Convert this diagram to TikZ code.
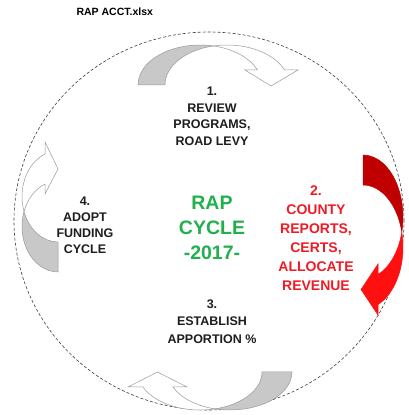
\documentclass[tikz,border=0pt]{standalone}
\usepackage{fontspec}
\setmainfont{Liberation Sans}
\definecolor{backgray}{HTML}{C8C8C8}
\definecolor{edgegray}{HTML}{9A9A9A}
\definecolor{redback}{HTML}{C00000}
\definecolor{redfront}{HTML}{FF1010}
\definecolor{stepred}{HTML}{EE1C25}
\definecolor{cyclegreen}{HTML}{22B04E}
\definecolor{inkdark}{HTML}{1E1E1E}
\usetikzlibrary{calc}
\tikzset{
  steptext/.style={font=\bfseries\fontsize{12.5}{16.5}\selectfont, text=inkdark, align=center},
  grayback/.style={fill=backgray, draw=edgegray, line width=0.5pt},
  grayfront/.style={fill=white, draw=edgegray, line width=0.5pt},
}

\begin{document}
\begin{tikzpicture}[x=1pt, y=1pt]
\useasboundingbox (0,0) rectangle (408,415);
\fill[white] (0,0) rectangle (408,415);

% File name
\node[font=\bfseries\fontsize{10.5}{12}\selectfont, anchor=west] (title) at (73,403) {RAP ACCT.xlsx};

% Dashed cycle outline
\draw[inkdark!85, line width=0.6pt, dash pattern=on 3pt off 2pt] (209,194) ellipse[x radius=195, y radius=189];

% Top arrow (1 -> 2)
\draw[grayback] (138,330) arc[start angle=180, end angle=77.42, x radius=62, y radius=40]
  arc[start angle=102.58, end angle=180, x radius=62, y radius=40] -- cycle;
\draw[grayfront] (257.5,345) arc[start angle=22.02, end angle=77.42, x radius=62, y radius=40]
  arc[start angle=102.58, end angle=22.02, x radius=62, y radius=40]
  -- (298,345) -- (271,329) -- (245,345) -- cycle;

% Right arrow (2 -> 3)
\draw[fill=redback, draw=redback, line width=0.5pt] (363,260) arc[start angle=90, end angle=-14, x radius=40, y radius=62]
  arc[start angle=14, end angle=90, x radius=40, y radius=62] -- cycle;
\draw[fill=redfront, draw=redfront, line width=0.5pt] (378,140.5) arc[start angle=-67.98, end angle=-14, x radius=40, y radius=62]
  arc[start angle=14, end angle=-67.98, x radius=40, y radius=62]
  -- (378,100) -- (361,125.5) -- (378,151) -- cycle;

% Bottom arrow (3 -> 4)
\draw[grayback] (292,43) arc[start angle=0, end angle=-104, x radius=62, y radius=38]
  arc[start angle=-76, end angle=0, x radius=62, y radius=38] -- cycle;
\draw[grayfront] (173,28) arc[start angle=-156.75, end angle=-104, x radius=62, y radius=38]
  arc[start angle=-76, end angle=-156.75, x radius=62, y radius=38]
  -- (128,28) -- (157.5,43) -- (187,28) -- cycle;

% Left arrow (4 -> 1)
\draw[grayback] (58,143) arc[start angle=270, end angle=160.75, x radius=36, y radius=45.5]
  arc[start angle=199.25, end angle=270, x radius=36, y radius=45.5] -- cycle;
\draw[grayfront] (45,230.9) arc[start angle=111.17, end angle=160.75, x radius=36, y radius=45.5]
  arc[start angle=199.25, end angle=111.17, x radius=36, y radius=45.5]
  -- (45,273) -- (58,246) -- (45,221) -- cycle;

% Steps
\node[steptext] (step1) at (212,298.5) {1.\\REVIEW\\PROGRAMS,\\ROAD LEVY};
\node[font=\bfseries\fontsize{14}{19}\selectfont, text=stepred, align=center] (step2) at (316,176.5) {2.\\COUNTY\\REPORTS,\\CERTS,\\ALLOCATE\\REVENUE};
\node[font=\bfseries\fontsize{12.5}{17.5}\selectfont, text=inkdark, align=center] (step3) at (212,93.5) {3.\\ESTABLISH\\APPORTION \%};
\node[font=\bfseries\fontsize{12.5}{16}\selectfont, text=inkdark, align=center] (step4) at (85,190) {4.\\ADOPT\\FUNDING\\CYCLE};

% Centre label
\node[font=\bfseries\fontsize{19.5}{25}\selectfont, text=cyclegreen, align=center] (cycle) at (212,187) {RAP\\CYCLE\\-2017-};
\end{tikzpicture}
\end{document}
